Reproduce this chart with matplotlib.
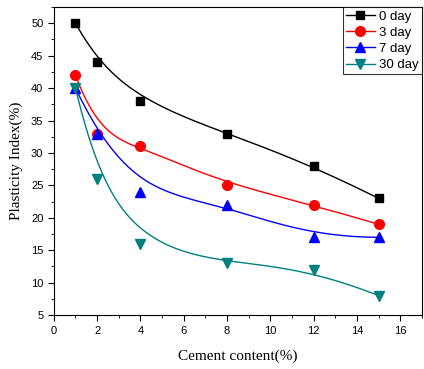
import numpy as np
import matplotlib
matplotlib.use("Agg")
import matplotlib.pyplot as plt
from matplotlib.ticker import MultipleLocator

# contenido de cemento (%) y índice de plasticidad por edad de curado
cemento = [1, 2, 4, 8, 12, 15]
ip_0d = [50, 44, 38, 33, 28, 23]
ip_3d = [42, 33, 31, 25, 22, 19]
ip_7d = [40, 33, 24, 22, 17, 17]
ip_30d = [40, 26, 16, 13, 12, 8]
etiquetas = ["0 day", "3 day", "7 day", "30 day"]


def bspline(px, py, grado=3, n=300):
    """B-spline cúbica con nudos anclados; los puntos hacen de polígono de control."""
    P = np.column_stack([px, py]).astype(float)
    m = len(P)
    k = grado
    nudos = np.concatenate([np.zeros(k), np.linspace(0, 1, m - k + 1), np.ones(k)])
    u = np.linspace(0, 1, n)
    u[-1] -= 1e-12
    # Cox-de Boor
    N = np.zeros((n, len(nudos) - 1))
    for i in range(len(nudos) - 1):
        N[:, i] = (u >= nudos[i]) & (u < nudos[i + 1])
    for d in range(1, k + 1):
        Nn = np.zeros((n, len(nudos) - 1 - d))
        for i in range(len(nudos) - 1 - d):
            a = nudos[i + d] - nudos[i]
            b = nudos[i + d + 1] - nudos[i + 1]
            t1 = (u - nudos[i]) / a * N[:, i] if a > 0 else 0
            t2 = (nudos[i + d + 1] - u) / b * N[:, i + 1] if b > 0 else 0
            Nn[:, i] = t1 + t2
        N = Nn
    C = N @ P
    return C[:, 0], C[:, 1]


plt.rcParams["font.family"] = ["Liberation Sans", "DejaVu Sans"]
fig = plt.figure(figsize=(4.24, 3.69), dpi=100)
ax = fig.add_axes([0.127, 0.146, 0.868, 0.835])

series = [
    (ip_0d, "black", "s", 6),
    (ip_3d, "red", "o", 7),
    (ip_7d, "blue", "^", 7),
    (ip_30d, "#008080", "v", 7),
]
handles = []
for (ys, col, mk, ms), lab in zip(series, etiquetas):
    cx, cy = bspline(cemento, ys)
    ax.plot(cx, cy, color=col, lw=1.0)
    ax.plot(cemento, ys, ls="none", marker=mk, color=col, ms=ms)
    h, = ax.plot([], [], color=col, lw=1.0, marker=mk, ms=ms, label=lab)
    handles.append(h)

ax.set_xlim(0, 17)
ax.set_ylim(5, 52.5)
ax.xaxis.set_major_locator(MultipleLocator(2))
ax.xaxis.set_minor_locator(MultipleLocator(1))
ax.yaxis.set_major_locator(MultipleLocator(5))
ax.yaxis.set_minor_locator(MultipleLocator(2.5))
ax.tick_params(which="major", direction="out", length=4, labelsize=8)
ax.tick_params(which="minor", direction="out", length=2)

ax.set_xlabel("Cement content(%)", family="Liberation Serif", fontsize=11, labelpad=10)
ax.set_ylabel("Plasticity Index(%)", family="Liberation Serif", fontsize=11, labelpad=6)

leg = ax.legend(handles=handles, loc="upper right", fontsize=9.5, frameon=True,
                fancybox=False, edgecolor="black", borderpad=0.25, labelspacing=0.3,
                handlelength=2.2, handletextpad=0.3, borderaxespad=0.0)
leg.get_frame().set_linewidth(0.8)

fig.savefig("out.png", dpi=100)
